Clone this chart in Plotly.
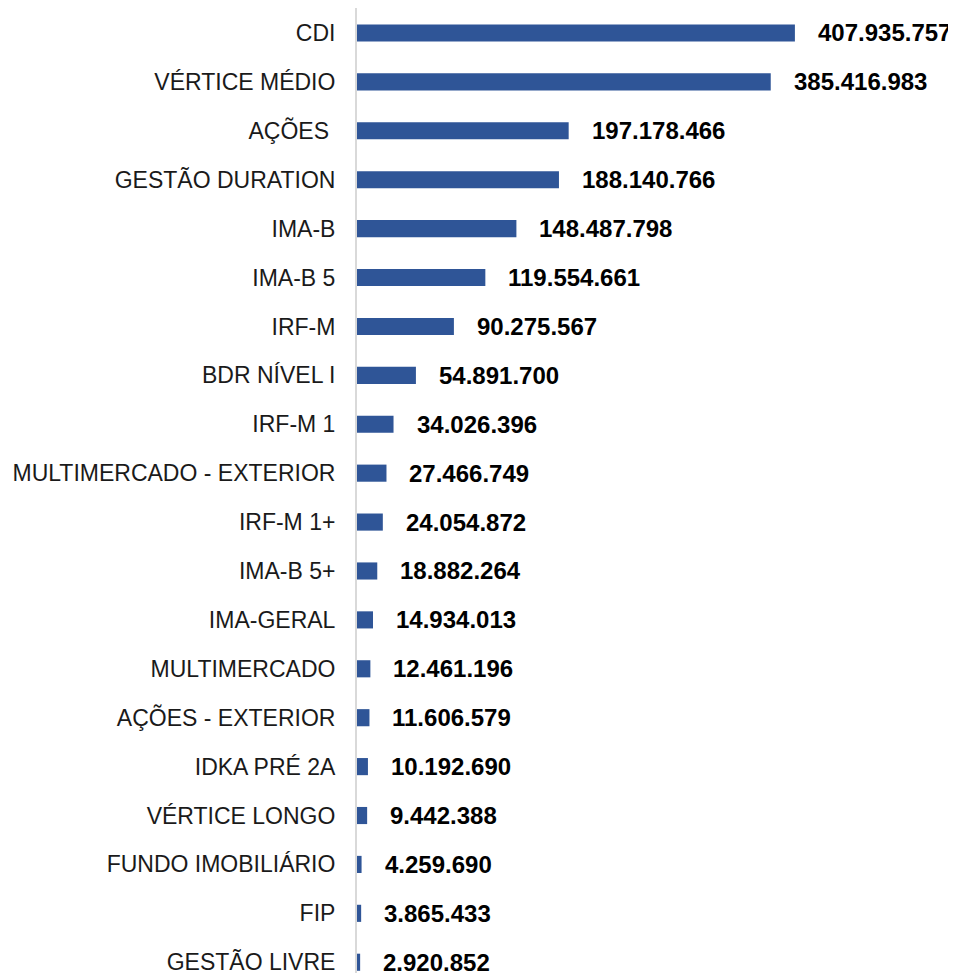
import plotly.graph_objects as go

# ── Data ──────────────────────────────────────────────────────
categories = [
    "CDI", "VÉRTICE MÉDIO", "AÇÕES\u00a0", "GESTÃO DURATION", "IMA-B",
    "IMA-B 5", "IRF-M", "BDR NÍVEL I", "IRF-M 1", "MULTIMERCADO - EXTERIOR",
    "IRF-M 1+", "IMA-B 5+", "IMA-GERAL", "MULTIMERCADO", "AÇÕES - EXTERIOR",
    "IDKA PRÉ 2A", "VÉRTICE LONGO", "FUNDO IMOBILIÁRIO", "FIP", "GESTÃO LIVRE",
]
values = [
    407935757, 385416983, 197178466, 188140766, 148487798,
    119554661, 90275567, 54891700, 34026396, 27466749,
    24054872, 18882264, 14934013, 12461196, 11606579,
    10192690, 9442388, 4259690, 3865433, 2920852,
]

BAR_COLOR = "#2F5597"
FONT = "Liberation Sans, Arial, sans-serif"


def fmt(v):
    return f"{v:,}".replace(",", ".")


fig = go.Figure()
fig.add_trace(go.Bar(
    y=categories,
    x=values,
    orientation="h",
    marker=dict(color=BAR_COLOR, line=dict(width=0)),
    width=0.35,
    hoverinfo="skip",
))

# value labels, offset right of each bar end
for cat, v in zip(categories, values):
    fig.add_annotation(
        x=v, y=cat, text=f"<b>{fmt(v)}</b>",
        xanchor="left", yanchor="middle", xshift=21, showarrow=False,
        font=dict(family=FONT, size=24, color="#000000"),
    )

# page body has an 8px default margin, so the figure is sized to fit inside
fig.update_layout(
    width=948, height=965,
    paper_bgcolor="white", plot_bgcolor="white",
    margin=dict(l=349, r=0, t=0, b=0, autoexpand=False),
    showlegend=False,
    font=dict(family=FONT, size=23, color="#1A1A1A"),
    xaxis=dict(range=[0, 558e6], visible=False, showgrid=False,
               zeroline=False, automargin=False),
    yaxis=dict(
        range=[19.22, -0.511], showgrid=False, zeroline=False,
        showline=True, linecolor="#D9D9D9", linewidth=2,
        ticks="", ticklabelstandoff=15, automargin=False,
        tickfont=dict(family=FONT, size=23, color="#1A1A1A"),
    ),
)

fig.write_html("out.html")
